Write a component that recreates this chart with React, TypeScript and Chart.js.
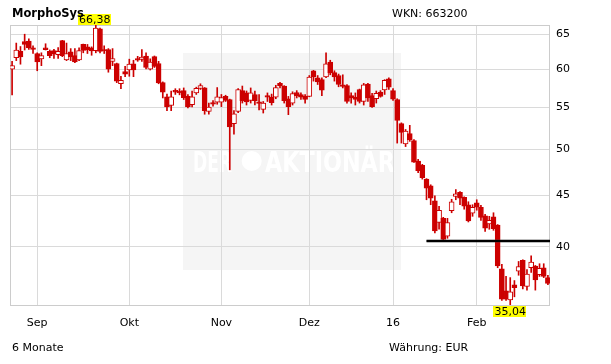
import { useEffect, useRef } from "react";
import { Chart, registerables } from "chart.js";

Chart.register(...registerables);

const titleText = "MorphoSys";
const wknText = "WKN: 663200";
const periodText = "6 Monate";
const currencyText = "Währung: EUR";

const dates = [
  "24.08.15", "25.08.15", "26.08.15", "27.08.15", "28.08.15", "31.08.15",
  "01.09.15", "02.09.15", "03.09.15", "04.09.15", "07.09.15", "08.09.15", "09.09.15", "10.09.15", "11.09.15",
  "14.09.15", "15.09.15", "16.09.15", "17.09.15", "18.09.15", "21.09.15", "22.09.15", "23.09.15", "24.09.15",
  "25.09.15", "28.09.15", "29.09.15", "30.09.15",
  "01.10.15", "02.10.15", "05.10.15", "06.10.15", "07.10.15", "08.10.15", "09.10.15", "12.10.15", "13.10.15",
  "14.10.15", "15.10.15", "16.10.15", "19.10.15", "20.10.15", "21.10.15", "22.10.15", "23.10.15", "26.10.15",
  "27.10.15", "28.10.15", "29.10.15", "30.10.15",
  "02.11.15", "03.11.15", "04.11.15", "05.11.15", "06.11.15", "09.11.15", "10.11.15", "11.11.15", "12.11.15",
  "13.11.15", "16.11.15", "17.11.15", "18.11.15", "19.11.15", "20.11.15", "23.11.15", "24.11.15", "25.11.15",
  "26.11.15", "27.11.15", "30.11.15",
  "01.12.15", "02.12.15", "03.12.15", "04.12.15", "07.12.15", "08.12.15", "09.12.15", "10.12.15", "11.12.15",
  "14.12.15", "15.12.15", "16.12.15", "17.12.15", "18.12.15", "21.12.15", "22.12.15", "23.12.15", "28.12.15",
  "29.12.15", "30.12.15",
  "04.01.16", "05.01.16", "06.01.16", "07.01.16", "08.01.16", "11.01.16", "12.01.16", "13.01.16", "14.01.16",
  "15.01.16", "18.01.16", "19.01.16", "20.01.16", "21.01.16", "22.01.16", "25.01.16", "26.01.16", "27.01.16",
  "28.01.16", "29.01.16",
  "01.02.16", "02.02.16", "03.02.16", "04.02.16", "05.02.16", "08.02.16", "09.02.16", "10.02.16", "11.02.16",
  "12.02.16", "15.02.16", "16.02.16", "17.02.16", "18.02.16", "19.02.16", "22.02.16", "23.02.16", "24.02.16",
];

const opens = [
  60.0, 61.6, 62.5, 63.9, 64.0, 63.0, 62.2, 61.45, 63.0, 62.5,
  62.6, 62.05, 64.05, 61.3, 62.45, 61.9, 61.3, 63.5, 63.15, 63.0,
  62.6, 65.8, 62.75, 62.75, 61.1, 60.8, 58.05, 59.7, 59.9, 60.75,
  61.5, 61.35, 61.85, 60.0, 61.75, 60.8, 58.2, 56.35, 55.25, 57.2,
  57.1, 57.15, 56.4, 55.35, 56.85, 57.45, 57.5, 54.5, 55.6, 55.65,
  55.65, 56.4, 56.0, 53.0, 54.5, 57.15, 56.85, 55.9, 56.65, 55.7,
  54.75, 56.5, 56.3, 56.3, 58.1, 57.75, 56.1, 55.55, 56.9, 56.65,
  56.4, 56.4, 59.8, 58.85, 58.6, 58.95, 61.0, 59.55, 59.15, 57.9,
  57.8, 56.5, 56.3, 57.3, 55.75, 58.0, 56.5, 56.1, 56.95, 57.25,
  58.7, 57.15, 56.0, 53.0, 50.6, 51.8, 51.0, 48.65, 48.2, 46.7,
  46.0, 44.45, 42.3, 42.7, 41.0, 43.45, 44.9, 45.3, 44.8, 44.05,
  43.2, 44.25, 43.8, 42.95, 42.15, 42.85, 42.05, 38.05, 36.2, 35.45,
  36.7, 37.85, 38.8, 36.55, 38.15, 38.3, 37.55, 38.15, 37.3,
];

const highs = [
  61.1, 63.7, 63.2, 65.0, 64.3, 63.3, 62.3, 62.3, 63.6, 62.7,
  62.8, 63.05, 64.1, 63.7, 62.9, 62.9, 63.0, 63.55, 63.5, 63.15,
  66.38, 65.9, 63.3, 62.9, 62.9, 60.85, 59.05, 60.4, 61.4, 61.25,
  61.8, 62.75, 62.3, 61.45, 61.85, 61.1, 58.3, 56.7, 57.1, 57.4,
  57.4, 57.5, 56.65, 57.1, 57.6, 58.05, 57.55, 55.55, 55.85, 57.55,
  56.65, 56.55, 56.05, 54.6, 57.4, 57.75, 57.1, 57.5, 57.1, 56.65,
  55.75, 56.85, 56.7, 57.85, 58.25, 57.8, 56.4, 57.0, 57.15, 56.85,
  56.65, 59.15, 59.85, 59.15, 58.85, 62.3, 61.25, 59.8, 59.35, 59.25,
  57.95, 56.85, 56.85, 57.35, 58.1, 58.1, 56.8, 57.1, 57.15, 58.6,
  58.85, 57.4, 56.1, 53.1, 52.3, 52.8, 51.1, 48.85, 48.3, 46.75,
  46.1, 44.95, 43.9, 42.8, 42.7, 44.6, 45.6, 45.4, 44.85, 44.35,
  44.05, 44.55, 44.0, 43.1, 42.9, 43.25, 42.1, 38.45, 37.4, 37.3,
  37.05, 38.7, 38.85, 38.0, 39.2, 38.35, 38.5, 38.5, 37.5,
];

const lows = [
  56.6, 61.2, 60.7, 62.7, 62.8, 62.2, 59.8, 60.5, 62.7, 61.6,
  61.5, 61.5, 61.75, 61.2, 61.2, 60.9, 61.2, 62.3, 62.2, 61.95,
  62.3, 62.3, 62.2, 59.6, 60.5, 58.2, 57.4, 59.0, 59.05, 59.0,
  61.1, 61.1, 60.05, 59.9, 60.25, 58.05, 56.2, 54.6, 54.6, 56.65,
  56.6, 56.0, 54.95, 55.05, 56.65, 57.3, 54.15, 54.15, 55.15, 55.4,
  55.1, 55.75, 47.7, 51.75, 54.35, 55.55, 55.3, 55.55, 55.3, 54.7,
  54.3, 55.75, 55.3, 56.1, 57.5, 55.55, 54.1, 55.3, 56.2, 56.0,
  55.55, 56.35, 58.4, 57.95, 56.5, 58.85, 59.25, 58.4, 57.65, 57.5,
  55.55, 55.55, 55.3, 55.55, 55.3, 55.75, 55.0, 55.55, 56.3, 56.65,
  57.3, 55.9, 50.7, 50.7, 50.3, 50.9, 48.5, 47.4, 46.7, 44.55,
  44.05, 41.3, 41.65, 40.5, 40.8, 43.25, 44.55, 44.05, 43.6, 42.35,
  42.9, 43.5, 42.5, 41.45, 41.65, 41.55, 38.15, 35.4, 35.4, 35.04,
  35.7, 37.5, 36.35, 36.25, 37.75, 36.25, 37.4, 37.3, 36.7,
];

const closes = [
  60.5, 62.7, 61.7, 63.5, 63.0, 62.8, 61.0, 61.9, 62.75, 61.9,
  62.15, 62.5, 61.9, 62.2, 61.7, 61.0, 62.6, 62.65, 62.7, 62.55,
  65.9, 62.5, 62.6, 60.0, 61.5, 58.4, 58.5, 59.35, 60.7, 59.9,
  61.25, 61.7, 60.25, 61.0, 60.4, 58.15, 56.95, 55.05, 56.35, 56.95,
  56.85, 56.25, 55.05, 56.35, 57.45, 57.8, 54.6, 55.05, 55.4, 56.35,
  56.25, 55.9, 52.6, 54.2, 57.3, 55.85, 55.7, 56.85, 55.85, 55.5,
  55.55, 56.3, 55.6, 57.55, 57.75, 55.85, 55.1, 56.75, 56.5, 56.3,
  56.0, 58.95, 58.95, 58.3, 57.2, 60.75, 59.5, 58.95, 57.95, 57.7,
  55.75, 56.2, 56.0, 55.75, 57.9, 56.2, 55.1, 56.8, 56.4, 58.5,
  57.6, 56.05, 53.4, 51.95, 52.1, 51.1, 48.55, 47.6, 46.85, 45.75,
  44.7, 41.5, 43.5, 40.7, 42.3, 44.35, 45.15, 44.7, 43.9, 42.45,
  43.8, 43.8, 42.8, 41.75, 42.5, 41.7, 38.3, 35.5, 35.5, 36.1,
  36.45, 38.25, 36.6, 37.6, 38.65, 37.1, 38.1, 37.4, 36.8,
];

const tickDates = ["01.09.15", "01.10.15", "02.11.15", "01.12.15", "04.01.16", "01.02.16"];
const tickLabels = ["Sep", "Okt", "Nov", "Dez", "16", "Feb"];
const yTicks = [40, 45, 50, 55, 60, 65];

const supportLevel = 40.55;
const supportStartDate = "14.01.16";

const RED = "#cc0000";
const FONT = '"DejaVu Sans", Verdana, sans-serif';

export default function App() {
  const ref = useRef<HTMLCanvasElement>(null);

  useEffect(() => {
    const canvas = ref.current;
    if (!canvas) return;

    const tickIdx = tickDates.map((d) => dates.indexOf(d));
    const maxHigh = Math.max(...highs);
    const minLow = Math.min(...lows);
    const maxIdx = highs.indexOf(maxHigh);
    const minIdx = lows.indexOf(minLow);
    const supportIdx = dates.indexOf(supportStartDate);
    const fmt = (v: number) => v.toFixed(2).replace(".", ",");

    const decor = {
      id: "decor",
      beforeDraw(chart: any) {
        const ctx = chart.ctx;
        ctx.save();
        ctx.fillStyle = "#ffffff";
        ctx.fillRect(0, 0, chart.width, chart.height);
        // watermark
        ctx.fillStyle = "#f5f5f5";
        ctx.fillRect(183, 53, 218, 217);
        ctx.fillStyle = "#ffffff";
        ctx.font = `bold 29px ${FONT}`;
        ctx.textAlign = "left";
        ctx.textBaseline = "alphabetic";
        ctx.fillText("DER", 193, 172, 39);
        ctx.beginPath();
        ctx.arc(251.7, 161, 10, 0, Math.PI * 2);
        ctx.fill();
        ctx.fillText("AKTIONÄR", 265, 172, 130);
        ctx.restore();
      },
      beforeDatasetsDraw(chart: any) {
        const { ctx, chartArea: a } = chart;
        ctx.save();
        ctx.strokeStyle = "#cccccc";
        ctx.lineWidth = 1;
        ctx.strokeRect(a.left + 0.5, a.top + 0.5, a.right - a.left - 1, a.bottom - a.top);
        ctx.restore();
      },
      afterDatasetsDraw(chart: any) {
        const { ctx, chartArea: a } = chart;
        const xs = chart.scales.x;
        const ys = chart.scales.y;
        ctx.save();
        // support line
        const sy = ys.getPixelForValue(supportLevel);
        const sx = xs.getPixelForValue(supportIdx);
        ctx.lineCap = "butt";
        ctx.strokeStyle = "rgba(60,60,60,0.45)";
        ctx.lineWidth = 3.5;
        ctx.beginPath();
        ctx.moveTo(sx, sy);
        ctx.lineTo(a.right, sy);
        ctx.stroke();
        ctx.strokeStyle = "#000000";
        ctx.lineWidth = 1.8;
        ctx.beginPath();
        ctx.moveTo(sx, sy);
        ctx.lineTo(a.right, sy);
        ctx.stroke();

        // max / min labels
        ctx.font = `11px ${FONT}`;
        ctx.textAlign = "center";
        ctx.textBaseline = "middle";
        const drawTag = (txt: string, cx: number, top: number) => {
          const w = ctx.measureText(txt).width + 2;
          ctx.fillStyle = "#ffff00";
          ctx.fillRect(Math.round(cx - w / 2), top, Math.round(w), 11);
          ctx.fillStyle = "#000000";
          ctx.fillText(txt, cx, top + 6);
        };
        drawTag(fmt(maxHigh), xs.getPixelForValue(maxIdx) - 1, a.top - 11);
        drawTag(fmt(minLow), xs.getPixelForValue(minIdx), a.bottom + 1);
        ctx.restore();
      },
      afterDraw(chart: any) {
        const ctx = chart.ctx;
        ctx.save();
        ctx.fillStyle = "#000000";
        ctx.textAlign = "left";
        ctx.textBaseline = "alphabetic";
        ctx.font = `bold 11.5px ${FONT}`;
        ctx.fillText(titleText, 12, 17);
        ctx.font = `11px ${FONT}`;
        ctx.fillText(wknText, 392, 17);
        ctx.fillText(periodText, 12, 351);
        ctx.fillText(currencyText, 389, 351);
        ctx.restore();
      },
    };

    const chart = new Chart(canvas, {
      type: "bar",
      data: {
        labels: dates,
        datasets: [
          {
            label: "wick",
            data: lows.map((l, i) => [l, highs[i]]) as any,
            backgroundColor: RED,
            borderWidth: 0,
            barThickness: 1,
            grouped: false,
            order: 2,
          },
          {
            label: "body",
            data: opens.map((o, i) => [o, closes[i]]) as any,
            backgroundColor: opens.map((o, i) => (closes[i] >= o ? "#ffffff" : RED)),
            borderColor: RED,
            borderWidth: 1,
            borderSkipped: false,
            barThickness: 5,
            minBarLength: 1,
            grouped: false,
            order: 1,
          } as any,
        ],
      },
      options: {
        responsive: false,
        animation: false,
        events: [],
        layout: { padding: { left: 10, top: 25, right: 0, bottom: 0 } },
        plugins: {
          legend: { display: false },
          tooltip: { enabled: false },
          title: { display: false },
        },
        scales: {
          x: {
            type: "category",
            offset: true,
            grid: { offset: false, color: "#dadada", drawTicks: false },
            border: { display: false },
            ticks: {
              autoSkip: false,
              maxRotation: 0,
              padding: 12,
              color: "#000000",
              font: { family: FONT, size: 11 },
              callback: (v: any) => tickLabels[tickIdx.indexOf(Number(v))] ?? "",
            },
            afterBuildTicks: (scale: any) => {
              scale.ticks = tickIdx.map((i) => ({ value: i }));
            },
            afterFit: (scale: any) => {
              scale.height = 59;
            },
          },
          y: {
            type: "logarithmic",
            position: "right",
            min: minLow,
            max: maxHigh,
            grid: { color: "#dadada", drawTicks: false },
            border: { display: false },
            ticks: {
              padding: 6,
              color: "#000000",
              font: { family: FONT, size: 11 },
              callback: (v: any) => String(v),
            },
            afterBuildTicks: (scale: any) => {
              scale.ticks = yTicks.map((v) => ({ value: v }));
            },
            afterFit: (scale: any) => {
              scale.width = 61;
            },
          },
        },
      },
      plugins: [decor],
    });

    return () => chart.destroy();
  }, []);

  return (
    <canvas
      ref={ref}
      width={611}
      height={364}
      style={{ display: "block", position: "absolute", left: 0, top: 0 }}
    />
  );
}
